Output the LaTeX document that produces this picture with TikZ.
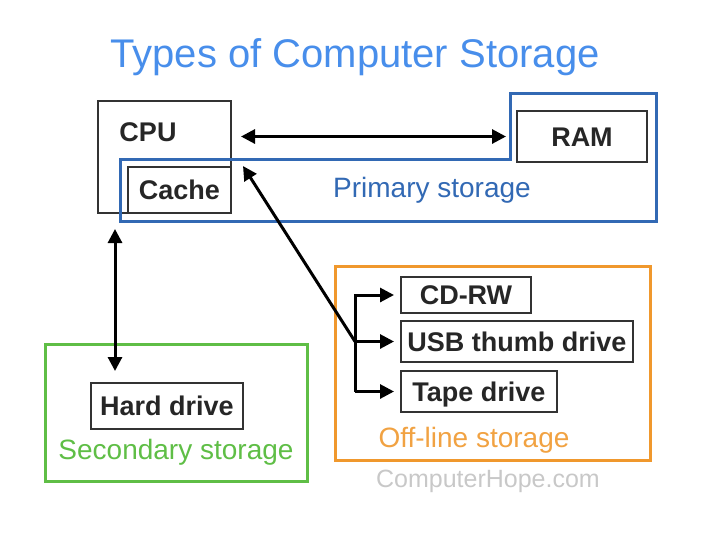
\documentclass[tikz,border=0pt]{standalone}
\usepackage{fontspec}
\setmainfont{Liberation Sans}
\usetikzlibrary{arrows.meta,positioning}

\definecolor{titleblue}{RGB}{72,142,235}
\definecolor{primblue}{RGB}{50,105,180}
\definecolor{offorange}{RGB}{240,152,45}
\definecolor{secgreen}{RGB}{95,190,70}
\definecolor{hopegray}{RGB}{200,200,200}

\begin{document}
\begin{tikzpicture}[
        x = 0.5pt, y = -0.5pt, % one unit is one pixel of the picture
        > = {Triangle[length=7pt,width=7pt]}, % arrow head style
        line width = 1.5pt, % arrow line style
        font = \fontsize{14pt}{16pt}\selectfont
      ]

      \tikzstyle{box}=[rectangle,draw=black!80,line width=1pt,inner sep=0pt,
                       text height=9.7pt,text depth=0pt,text=black!85,
                       font=\fontsize{13.5pt}{16pt}\selectfont\bfseries]
      \tikzstyle{area}=[line width=1.5pt]

      \useasboundingbox (0,0) rectangle (702,548);

      \node[font=\fontsize{20pt}{24pt}\selectfont,text=titleblue] (title) at (355,57) {Types of Computer Storage};

      % processor and main memory
      \node[box,minimum width=66.5pt,minimum height=56pt] (cpu) at (164.5,157) {};
      \node[text=black!85,font=\fontsize{13.5pt}{16pt}\selectfont\bfseries] (cputext) at (148,132) {CPU};
      \node[box,minimum width=51.5pt,minimum height=23pt] (cache) at (179.5,190) {Cache};
      \node[box,minimum width=65pt,minimum height=25.5pt] (ram) at (582,136.5) {RAM};
      \node[text=primblue] (primtext) at (432,190) {Primary storage};

      % off-line drives
      \node[box,minimum width=65pt,minimum height=18pt] (cdrw) at (466,295) {CD-RW};
      \node[box,minimum width=116pt,minimum height=20.5pt] (usb) [below=3pt of cdrw.south west,anchor=north west] {USB thumb drive};
      \node[box,minimum width=78pt,minimum height=20.5pt] (tape) [below=3.5pt of usb.south west,anchor=north west] {Tape drive};
      \node[text=offorange!90!white] (offtext) at (474,440) {Off-line storage};

      % secondary
      \node[box,minimum width=76pt,minimum height=23pt] (hd) at (167,406) {Hard drive};
      \node[text=secgreen] (sectext) at (176,452) {Secondary storage};

      \node[font=\fontsize{12.5pt}{14pt}\selectfont,text=hopegray] (hope) at (488,481) {ComputerHope.com};

      % storage areas
      \draw[area,primblue] (120,159) -- (510,159) -- (510,93) -- (656,93)
                           -- (656,221) -- (120,221) -- cycle;
      \draw[area,offorange] (335,266) rectangle (650,460);
      \draw[area,secgreen] (45,344) rectangle (307,481);

      % connections
      \coordinate (branch) at ([xshift=-22.5pt]usb.west);
      \coordinate (hdjoin) at ([xshift=-26pt]hd.north);

      \draw[<->,shorten <=4.5pt,shorten >=5pt] (cpu.east |- ram.west) -- (ram.west);
      \draw[<->,shorten <=7.5pt,shorten >=5.5pt] (hdjoin |- cpu.south) -- (hdjoin);
      \draw[->] (branch) -- ([xshift=5.5pt]cache.north east);
      \draw[->,shorten >=3pt] (branch |- tape.west) -- (branch |- cdrw.west) -- (cdrw.west);
      \draw[->,shorten >=3pt] (branch) -- (usb.west);
      \draw[->,shorten >=3pt] (branch |- tape.west) -- (tape.west);

    \end{tikzpicture}
\end{document}
